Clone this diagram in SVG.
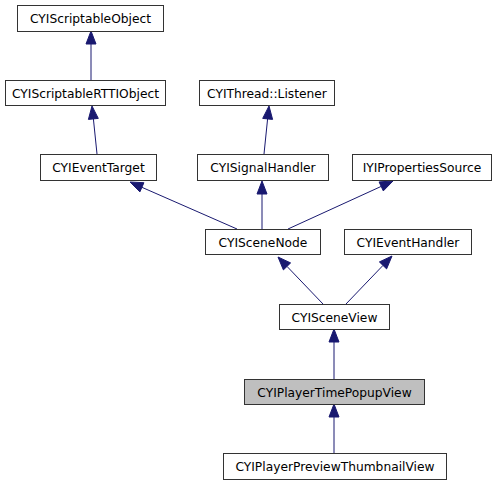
<svg xmlns="http://www.w3.org/2000/svg" width="503" height="485" viewBox="0 0 503 485">
<style>
.n rect{fill:#fff;stroke:#333;stroke-width:1}
.n.h rect{fill:#bfbfbf}
.n text{font-family:"DejaVu Sans",sans-serif;font-size:12.25px;fill:#000;text-anchor:middle}
.e line{stroke:#191970;stroke-width:1}
.e polygon{fill:#191970;stroke:#191970;stroke-width:1}
</style>
<rect width="503" height="485" fill="#fff"/>
<g id="edges" class="e">
<line x1="91" y1="80" x2="91" y2="44"/><polygon points="91,31 86,44 96,44"/>
<line x1="97" y1="154" x2="93.4" y2="118.9"/><polygon points="92,106 98.3,118.4 88.4,119.4"/>
<line x1="264" y1="154" x2="267.6" y2="118.9"/><polygon points="269,106 272.6,119.4 262.7,118.4"/>
<line x1="237" y1="229" x2="141.9" y2="187.3"/><polygon points="130,182 139.9,191.9 143.9,182.7"/>
<line x1="262" y1="229" x2="262" y2="194"/><polygon points="262,181 257,194 267,194"/>
<line x1="288" y1="229" x2="381.2" y2="186.4"/><polygon points="393,181 383.3,190.9 379.1,181.9"/>
<line x1="323" y1="304" x2="287" y2="266.4"/><polygon points="278,257 283.4,269.9 290.6,262.9"/>
<line x1="346" y1="304" x2="383" y2="265.4"/><polygon points="392,256 386.6,268.9 379.4,261.9"/>
<line x1="334" y1="379" x2="334" y2="342"/><polygon points="334,329 329,342 339,342"/>
<line x1="334" y1="453" x2="334" y2="417"/><polygon points="334,404 329,417 339,417"/>
</g>
<g id="CYIScriptableObject" class="n"><rect x="17.5" y="5.5" width="146" height="26"/><text x="90.5" y="22.5">CYIScriptableObject</text></g>
<g id="CYIScriptableRTTIObject" class="n"><rect x="5.5" y="80.5" width="160" height="25"/><text x="85.5" y="97.5">CYIScriptableRTTIObject</text></g>
<g id="CYIThreadListener" class="n"><rect x="199.5" y="80.5" width="135" height="25"/><text x="267" y="97.5">CYIThread::Listener</text></g>
<g id="CYIEventTarget" class="n"><rect x="40.5" y="154.5" width="116" height="26"/><text x="98.5" y="171.5">CYIEventTarget</text></g>
<g id="CYISignalHandler" class="n"><rect x="197.5" y="154.5" width="131" height="26"/><text x="263" y="171.5">CYISignalHandler</text></g>
<g id="IYIPropertiesSource" class="n"><rect x="352.5" y="154.5" width="139" height="26"/><text x="422" y="171.5">IYIPropertiesSource</text></g>
<g id="CYISceneNode" class="n"><rect x="205.5" y="229.5" width="115" height="25"/><text x="263" y="246.5">CYISceneNode</text></g>
<g id="CYIEventHandler" class="n"><rect x="344.5" y="229.5" width="127" height="25"/><text x="408" y="246.5">CYIEventHandler</text></g>
<g id="CYISceneView" class="n"><rect x="279.5" y="304.5" width="110" height="25"/><text x="334.5" y="321.5">CYISceneView</text></g>
<g id="CYIPlayerTimePopupView" class="n h"><rect x="244.5" y="379.5" width="180" height="25"/><text x="334.5" y="396.5">CYIPlayerTimePopupView</text></g>
<g id="CYIPlayerPreviewThumbnailView" class="n"><rect x="223.5" y="453.5" width="223" height="26"/><text x="335" y="470.5">CYIPlayerPreviewThumbnailView</text></g>
</svg>
